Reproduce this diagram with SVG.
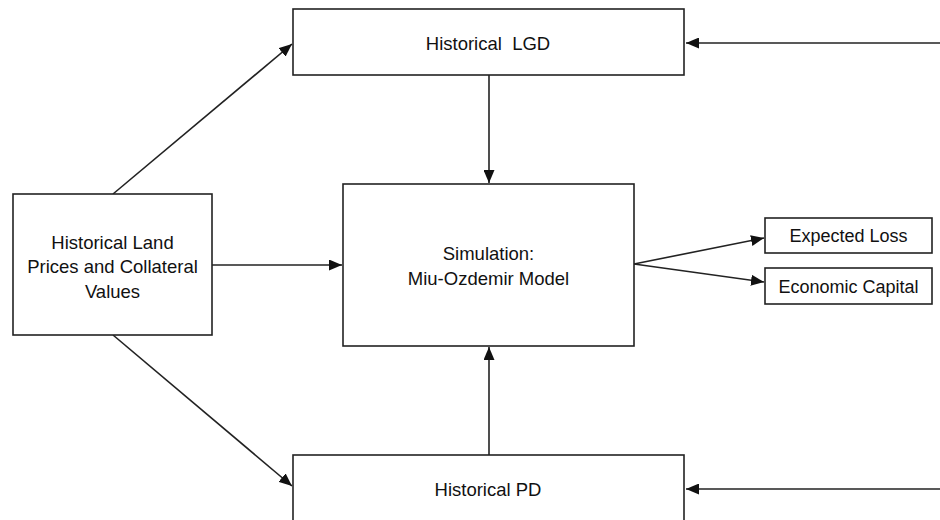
<svg xmlns="http://www.w3.org/2000/svg" width="940" height="520" viewBox="0 0 940 520">
<style>
.box{fill:#fff;stroke:#222;stroke-width:1.6}
.lbl{font-family:"Liberation Sans",Arial,sans-serif;font-size:18.5px;fill:#111;text-anchor:middle}
.sm{font-size:18px}
.con{stroke:#222;stroke-width:1.6;fill:none;marker-end:url(#ah)}
</style>
<defs>
<marker id="ah" markerUnits="userSpaceOnUse" markerWidth="13" markerHeight="11" refX="13" refY="5.5" orient="auto">
<path d="M0,0 L13,5.5 L0,11 z" fill="#111"/>
</marker>
</defs>
<rect width="940" height="520" fill="#fff"/>
<g id="connectors">
<line class="con" x1="489" y1="75" x2="489" y2="183"/>
<line class="con" x1="489" y1="455" x2="489" y2="347"/>
<line class="con" x1="212" y1="265" x2="342" y2="265"/>
<line class="con" x1="113" y1="194" x2="292" y2="44"/>
<line class="con" x1="113" y1="335" x2="292" y2="486"/>
<line class="con" x1="634" y1="264" x2="764" y2="238"/>
<line class="con" x1="634" y1="264" x2="764" y2="282"/>
<line class="con" x1="940" y1="43" x2="686" y2="43"/>
<line class="con" x1="940" y1="489" x2="686" y2="489"/>
</g>
<g id="lgd">
<rect class="box" x="293" y="9" width="391" height="66"/>
<text class="lbl" x="488" y="49.5" xml:space="preserve">Historical  LGD</text>
</g>
<g id="land">
<rect class="box" x="13" y="194" width="199" height="141"/>
<text class="lbl" x="112.5" y="248.5">Historical Land</text>
<text class="lbl" x="112.5" y="273">Prices and Collateral</text>
<text class="lbl" x="112.5" y="297.5">Values</text>
</g>
<g id="simulation">
<rect class="box" x="343" y="184" width="291" height="162"/>
<text class="lbl" x="488.5" y="259.5">Simulation:</text>
<text class="lbl" x="488.5" y="284.5">Miu-Ozdemir Model</text>
</g>
<g id="expected-loss">
<rect class="box" x="765" y="218" width="167" height="35"/>
<text class="lbl sm" x="848.5" y="242">Expected Loss</text>
</g>
<g id="economic-capital">
<rect class="box" x="765" y="268" width="167" height="36"/>
<text class="lbl sm" x="848.5" y="292.5">Economic Capital</text>
</g>
<g id="pd">
<rect class="box" x="293" y="455" width="391" height="80"/>
<text class="lbl" x="488" y="495.5">Historical PD</text>
</g>
</svg>
